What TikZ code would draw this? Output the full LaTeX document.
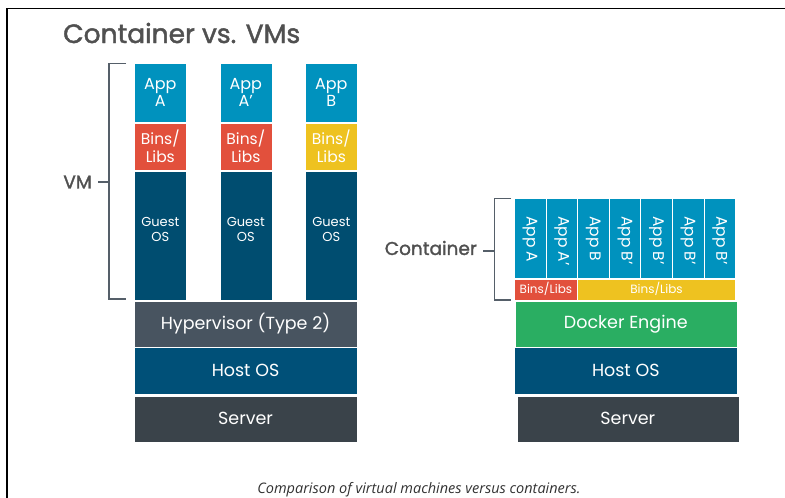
\documentclass[tikz,border=0pt]{standalone}
\usepackage{fontspec}
\usetikzlibrary{calc}
\setmainfont{Poppins}
\newfontfamily\medfont[FakeBold=1.6]{Poppins}
\newfontfamily\capfont{Open Sans}
\definecolor{appblue}{RGB}{0,146,190}
\definecolor{binred}{RGB}{226,80,60}
\definecolor{binyel}{RGB}{238,194,32}
\definecolor{guestblue}{RGB}{0,77,112}
\definecolor{hypgray}{RGB}{72,84,96}
\definecolor{hostblue}{RGB}{0,80,120}
\definecolor{servgray}{RGB}{58,67,74}
\definecolor{dockgreen}{RGB}{42,174,98}
\definecolor{labgray}{RGB}{80,80,80}
\definecolor{capgray}{RGB}{50,50,50}
\definecolor{brgray}{RGB}{85,95,105}
\tikzset{
  blk/.style={draw=white, line width=0.6pt, inner sep=0pt, anchor=north west, text=white, align=center},
  apptxt/.style={font=\fontsize{16}{17.5}\selectfont},
  bintxt/.style={font=\fontsize{15.5}{18.5}\selectfont},
  guesttxt/.style={font=\fontsize{13}{15}\selectfont, text=white, align=center, inner sep=0pt},
  bigtxt/.style={font=\fontsize{17.5}{20}\selectfont},
  ctxt/.style={font=\fontsize{15.5}{17}\selectfont, rotate=-90, text=white, inner sep=0pt, anchor=west},
  smalltxt/.style={font=\fontsize{12}{14}\selectfont},
  brk/.style={draw=brgray, line width=1.6pt},
  sidelab/.style={anchor=east, text=labgray, inner sep=0pt, font=\medfont\fontsize{18.5}{20}\selectfont},
}
\begin{document}
\begin{tikzpicture}[x=1pt,y=-1pt]
\useasboundingbox (0,0) rectangle (785,498);
% frame
\draw[line width=1.8pt] (7,498) -- (7,8.5) -- (786,8.5);
% title
\node[anchor=base west, text=labgray, inner sep=0pt, font=\medfont\fontsize{26.5}{28}\selectfont] (title) at (63,43) {Container vs. VMs};
% VM stacks
\foreach \i/\x/\app/\bc in {1/134/App\\A/binred, 2/219.5/App\\A’/binred, 3/305/App\\B/binyel}{
  \node[blk, fill=appblue, apptxt, minimum width=52, minimum height=58.5] (app\i) at (\x,63) {\app};
  \node[blk, fill=\bc, bintxt, minimum width=52, minimum height=47] (bin\i) at (\x,122.5) {Bins/\\Libs};
  \node[blk, fill=guestblue, minimum width=52, minimum height=129] (guest\i) at (\x,170.5) {};
  \node[guesttxt] (gt\i) at ($(guest\i.north)+(0,59)$) {Guest\\OS};
}
\node[blk, fill=hypgray, bigtxt, minimum width=223.5, minimum height=46] (hyp) at (133.5,300.5) {Hypervisor (Type 2)};
\node[blk, fill=hostblue, bigtxt, minimum width=223.5, minimum height=47] (host1) at (133.5,347) {Host OS};
\node[blk, fill=servgray, bigtxt, minimum width=223.5, minimum height=46] (serv1) at (133.5,395.5) {Server};
% VM bracket
\draw[brk] (126,63.5) -- (109,63.5) -- (109,299) -- (126,299);
\node[sidelab] (vmlab) at (92,182) {VM};
\draw[brk] (98,182) -- (109,182);
% Container stack
\foreach \j/\t in {0/App A,1/App A’,2/App B,3/App B’,4/App B’,5/App B’,6/App B’}{
  \node[blk, fill=appblue, minimum width=31.6, minimum height=80] (c\j) at ({514+\j*31.6},198) {};
  \node[ctxt] (ct\j) at ($(c\j.north)+(0,18)$) {\t};
}
\node[blk, fill=binred, smalltxt, minimum width=63.2, minimum height=21] (cbr) at (514,278.5) {Bins/Libs};
\node[blk, fill=binyel, smalltxt, minimum width=158, minimum height=21] (cby) at (577.2,278.5) {Bins/Libs};
\node[blk, fill=dockgreen, bigtxt, minimum width=222, minimum height=46] (dock) at (514.5,300.5) {Docker Engine};
\node[blk, fill=hostblue, bigtxt, minimum width=223, minimum height=47] (host2) at (514,347) {Host OS};
\node[blk, fill=servgray, bigtxt, minimum width=222, minimum height=46] (serv2) at (516.5,395.5) {Server};
% container bracket
\draw[brk] (511,198.5) -- (494.5,198.5) -- (494.5,300) -- (511,300);
\node[sidelab] (clab) at (477,248) {Container};
\draw[brk] (483,251) -- (494.5,251);
% caption
\node[anchor=base, text=capgray, inner sep=0pt, font=\capfont\itshape\fontsize{14.5}{16}\selectfont] (cap) at (419,493.5) {Comparison of virtual machines versus containers.};
\end{tikzpicture}
\end{document}
